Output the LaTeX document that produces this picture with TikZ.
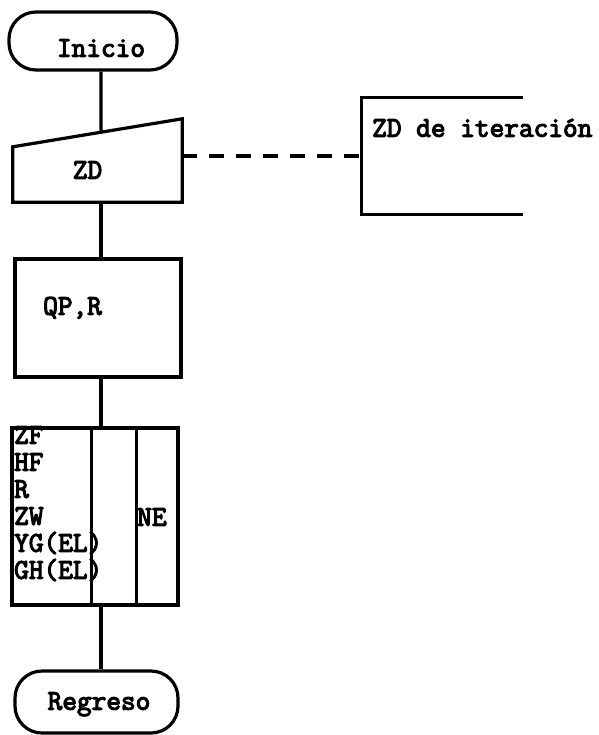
\documentclass[tikz,border=0pt]{standalone}
\usepackage{fontspec}
\usepackage{tikz}
\usetikzlibrary{calc}
\newfontfamily\flowfont[FakeBold=4]{Latin Modern Mono}
\tikzset{
  box/.style={draw, line width=3.2pt, inner sep=0pt},
  terminal/.style={box, rounded corners=27pt},
  frame/.style={inner sep=0pt},
  flow/.style={line width=3.2pt},
  link/.style={line width=3.2pt, dash pattern=on 15pt off 12pt},
  lbl/.style={font=\flowfont\fontsize{28.5}{27}\selectfont, inner sep=0pt, anchor=base},
}

\begin{document}
\begin{tikzpicture}[x=1pt, y=-1pt]
  \useasboundingbox (0,0) rectangle (598,735);
  \coordinate (spine) at (101,0);

  \node[terminal, minimum width=168pt, minimum height=58pt] (inicio) at (93,41) {};
  \node[lbl] (inicioT) at (101,56.7) {Inicio};

  \node[frame, minimum width=169pt, minimum height=83pt] (zd) at (97.5,160.5) {};
  \coordinate (zdtl) at ($(zd.north west)+(0,28)$);
  \coordinate (zdtop) at ($(zdtl)!0.5207!(zd.north east)$);
  \draw[flow] (zd.south west) -- (zdtl) -- (zd.north east) -- (zd.south east) -- cycle;
  \node[lbl] (zdT) at (87.5,178.7) {ZD};

  \node[frame, minimum width=161pt, minimum height=116pt] (itera) at (442.5,156) {};
  \draw[flow] (itera.north east) -- (itera.north west) -- (itera.south west) -- (itera.south east);
  \node[lbl, anchor=base west] (iteraT) at (372,136.7) {ZD de iteración};
  \draw[link] (zd.east |- itera.west) -- (itera.west);

  \node[box, minimum width=166pt, minimum height=118pt] (qp) at (98,318) {};
  \node[lbl, anchor=base west] (qpT) at (43,314.7) {QP,R};

  \node[box, minimum width=166pt, minimum height=177pt] (tbl) at (95,516.5) {};
  \draw[flow] ($(tbl.north west)+(81,0)$) -- ($(tbl.south west)+(81,0)$);
  \draw[flow] ($(tbl.north west)+(126,0)$) -- ($(tbl.south west)+(126,0)$);
  \foreach \t [count=\i] in {ZF,HF,R,ZW,YG(EL),GH(EL)}
    \node[lbl, anchor=base west] (row\i) at (14,416.7+27*\i) {\t};
  \node[lbl, anchor=base west] (neT) at (137,525.7) {NE};

  \node[terminal, minimum width=163pt, minimum height=62pt] (regreso) at (96.5,702) {};
  \node[lbl] (regresoT) at (99,709.7) {Regreso};

  \draw[flow] (inicio.south -| spine) -- (zdtop);
  \draw[flow] (zd.south -| spine) -- (qp.north -| spine);
  \draw[flow] (qp.south -| spine) -- (tbl.north -| spine);
  \draw[flow] (tbl.south -| spine) -- (regreso.north -| spine);
\end{tikzpicture}
\end{document}
